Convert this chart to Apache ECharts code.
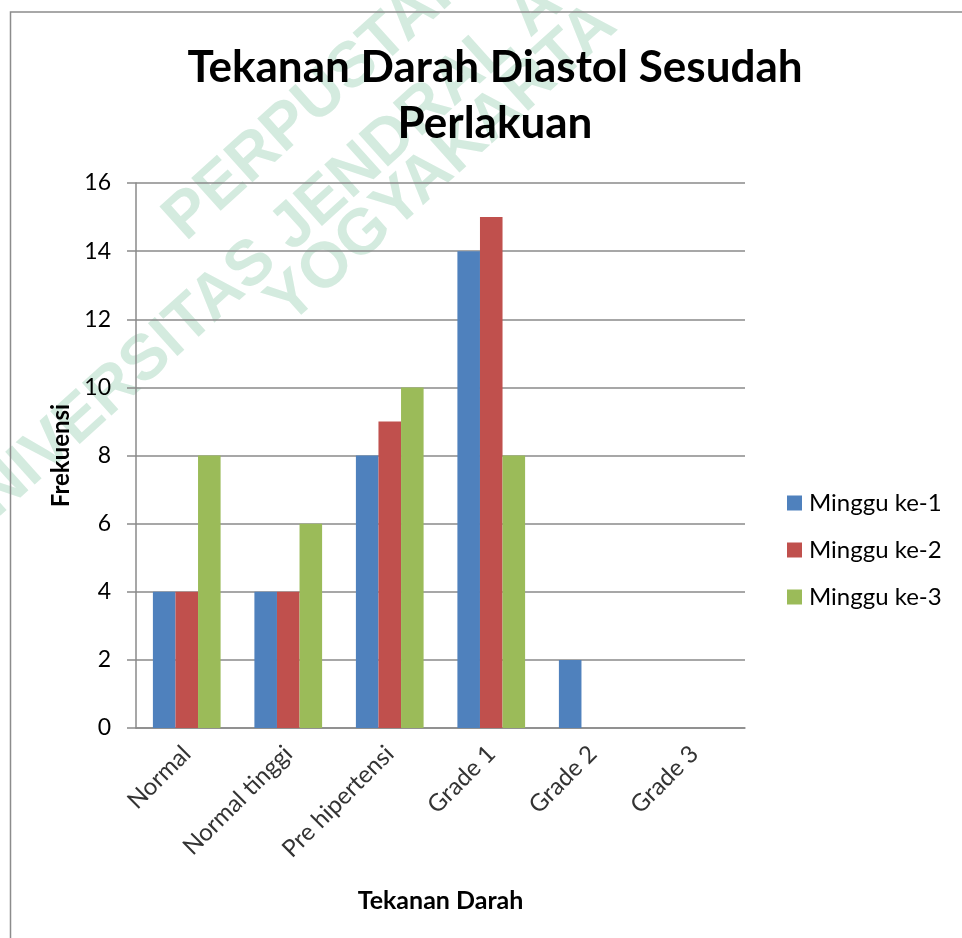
<!DOCTYPE html>
<html>
<head>
<meta charset="utf-8">
<script src="https://cdn.jsdelivr.net/npm/echarts@6/dist/echarts.min.js"></script>
<style>
html,body{margin:0;padding:0;background:#fff;}
#chart{width:962px;height:938px;}
</style>
</head>
<body>
<div id="chart"></div>
<script>
const titleText = "Tekanan Darah Diastol Sesudah\nPerlakuan";
const categories = ["Normal", "Normal tinggi", "Pre hipertensi", "Grade 1", "Grade 2", "Grade 3"];
const seriesNames = ["Minggu ke-1", "Minggu ke-2", "Minggu ke-3"];
const minggu1 = [4, 4, 8, 14, 2, 0];
const minggu2 = [4, 4, 9, 15, 0, 0];
const minggu3 = [8, 6, 10, 8, 0, 0];
const seriesColors = ["#4F81BD", "#C0504D", "#9BBB59"];
const yTicks = { min: 0, max: 16, interval: 2 };
const yAxisName = "Frekuensi";
const xAxisName = "Tekanan Darah";
const watermarkLines = ["PERPUSTAKAAN", "UNIVERSITAS JENDRAL ACHMAD YANI", "YOGYAKARTA"];

const chart = echarts.init(document.getElementById('chart'), null, {renderer: 'canvas'});
const FONT = 'Lato';
const gridColor = '#8a8a8a';
const ang = 42 * Math.PI / 180;
const wmStarts = [[174, 229], [-49, 536], [277, 313]];

const graphics = watermarkLines.map((t, i) => ({
  type: 'text',
  x: wmStarts[i][0], y: wmStarts[i][1],
  rotation: ang,
  z: -10,
  silent: true,
  style: {
    text: t,
    fill: '#d4ebdf',
    font: 'bold 64px "Liberation Sans", Arial, sans-serif',
    textAlign: 'left',
    textVerticalAlign: 'middle'
  }
}));
graphics.push({
  type: 'rect',
  z: 10,
  silent: true,
  shape: { x: 10.5, y: 12, width: 1000, height: 1000 },
  style: { fill: 'none', stroke: '#8c8c8c', lineWidth: 1.5 }
});

const dataSets = [minggu1, minggu2, minggu3];

chart.setOption({
  animation: false,
  backgroundColor: '#ffffff',
  graphic: graphics,
  title: {
    text: titleText,
    left: 490,
    top: 35,
    textAlign: 'center',
    textStyle: {
      fontFamily: FONT,
      fontWeight: 'bold',
      fontSize: 44,
      lineHeight: 56,
      color: '#000'
    }
  },
  legend: {
    orient: 'vertical',
    left: 787,
    top: 491,
    padding: 0,
    itemWidth: 15,
    itemHeight: 15,
    itemGap: 23,
    icon: 'rect',
    data: seriesNames,
    textStyle: { fontFamily: FONT, fontSize: 24, lineHeight: 24, color: '#000', padding: [0, 0, 0, 2] }
  },
  grid: { left: 136, right: 217, top: 183, bottom: 210, containLabel: false },
  xAxis: {
    type: 'category',
    data: categories,
    name: xAxisName,
    nameLocation: 'middle',
    nameGap: 160,
    nameTextStyle: { fontFamily: FONT, fontWeight: 'bold', fontSize: 25, color: '#000', verticalAlign: 'top' },
    axisLine: { show: true, lineStyle: { color: gridColor, width: 1.5 } },
    axisTick: { show: false },
    axisLabel: { rotate: 45, margin: 22, fontFamily: FONT, fontSize: 24, color: '#333', interval: 0 },
    splitLine: { show: false }
  },
  yAxis: {
    type: 'value',
    min: yTicks.min,
    max: yTicks.max,
    interval: yTicks.interval,
    name: yAxisName,
    nameLocation: 'middle',
    nameRotate: 90,
    nameGap: 62,
    nameTextStyle: { fontFamily: FONT, fontWeight: 'bold', fontSize: 24, color: '#000' },
    axisLine: { show: true, lineStyle: { color: gridColor, width: 1.5 } },
    axisTick: { show: true, inside: false, length: 9, lineStyle: { color: gridColor, width: 1.5 } },
    axisLabel: { margin: 25, fontFamily: FONT, fontSize: 23, color: '#000' },
    splitLine: { show: true, lineStyle: { color: gridColor, width: 1.5 } }
  },
  series: seriesNames.map((n, i) => ({
    name: n,
    type: 'bar',
    data: dataSets[i],
    itemStyle: { color: seriesColors[i] },
    barGap: '0%',
    barCategoryGap: '33.3%'
  }))
});
</script>
</body>
</html>
